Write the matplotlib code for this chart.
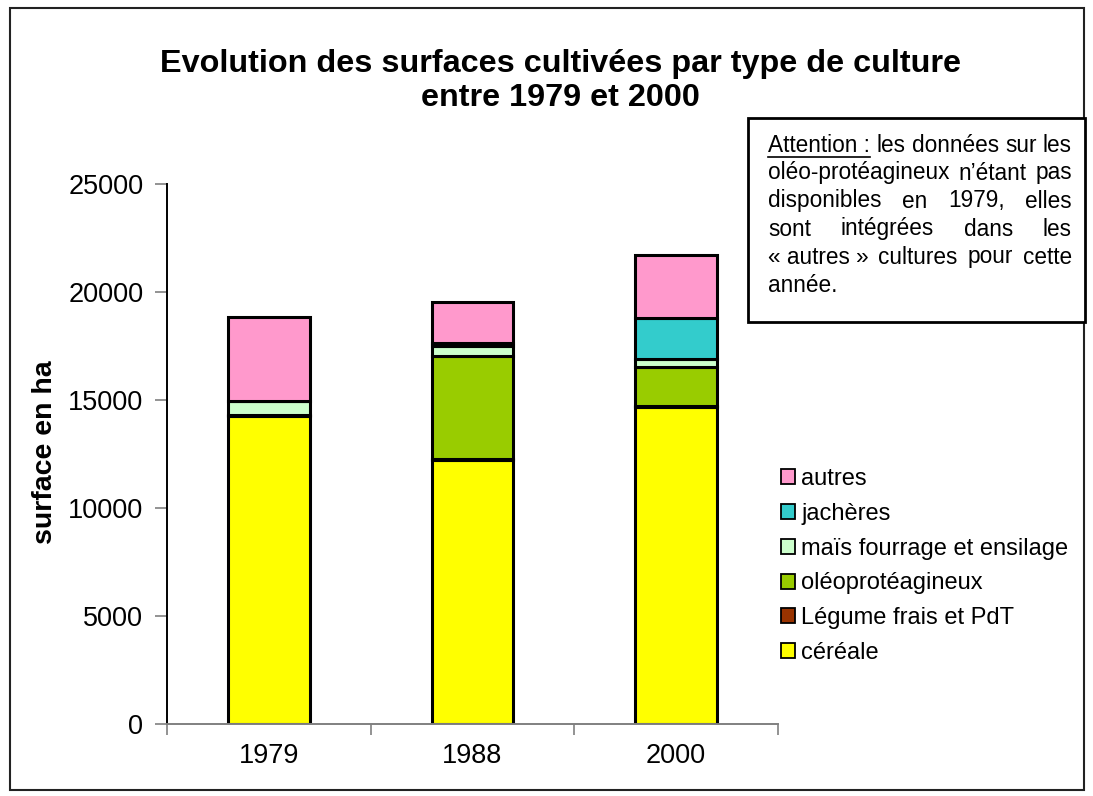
import matplotlib
matplotlib.use("Agg")
import matplotlib.pyplot as plt
from matplotlib.patches import Rectangle
from matplotlib.lines import Line2D
import numpy as np

plt.rcParams['font.family'] = ['Liberation Sans', 'DejaVu Sans']

# ---- data ----
years = ["1979", "1988", "2000"]
series_names = ["céréale", "Légume frais et PdT", "oléoprotéagineux",
                "maïs fourrage et ensilage", "jachères", "autres"]
cereale = [14250, 12230, 14660]
legume = [50, 50, 50]
oleo = [0, 4760, 1830]
mais = [650, 460, 340]
jacheres = [0, 120, 1900]
autres = [3890, 1900, 2930]
series_values = [cereale, legume, oleo, mais, jacheres, autres]
colors = ["#FFFF00", "#993300", "#99CC00", "#CCFFCC", "#33CCCC", "#FF99CC"]

title = "Evolution des surfaces cultivées par type de culture\nentre 1979 et 2000"
ylabel = "surface en ha"
yticks = [0, 5000, 10000, 15000, 20000, 25000]
note_lines = [
    ["Attention :", "les", "données", "sur", "les"],
    ["oléo-protéagineux", "n’étant", "pas"],
    ["disponibles", "en", "1979,", "elles"],
    ["sont", "intégrées", "dans", "les"],
    ["« autres »", "cultures", "pour", "cette"],
    ["année."],
]

W, H = 1093, 796
fig = plt.figure(figsize=(W / 100, H / 100), dpi=100)

def fx(x):
    return x / W

def fy(y):
    return 1 - y / H

ax = fig.add_axes([fx(167), fy(724), fx(778) - fx(167), fy(184) - fy(724)])

x = np.arange(len(years))
bottom = np.zeros(len(years))
handles = []
for name, vals, c in zip(series_names, series_values, colors):
    b = ax.bar(x, vals, 0.4, bottom=bottom, color=c, edgecolor="black",
               linewidth=2.2, label=name)
    handles.append(b)
    bottom = bottom + np.array(vals)

ax.set_xlim(-0.5, len(years) - 0.5)
ax.set_ylim(0, 25000)
ax.set_yticks(yticks)
ax.set_yticklabels([str(v) for v in yticks], fontsize=19.5)
ax.set_xticks(x)
ax.set_xticklabels(years, fontsize=19.5)
ax.set_xticks(np.arange(-0.5, len(years), 1.0), minor=True)
ax.tick_params(axis="x", which="major", length=0, pad=14)
ax.tick_params(axis="x", which="minor", length=8, width=1.2, color="#808080", direction="out")
ax.tick_params(axis="y", length=9, width=1.2, color="#808080", pad=8)
ax.spines["top"].set_visible(False)
ax.spines["right"].set_visible(False)
ax.spines["left"].set_color("black")
ax.spines["left"].set_linewidth(1.4)
ax.spines["bottom"].set_color("#808080")
ax.spines["bottom"].set_linewidth(1.4)

# title and y label
fig.text(fx(560), fy(81), title, ha="center", va="center", fontsize=23.3,
         fontweight="bold", linespacing=1.15)
fig.text(fx(45), fy(452), ylabel, ha="center", va="center", rotation=90,
         fontsize=20.5, fontweight="bold")

# legend
leg = fig.legend(handles[::-1], series_names[::-1], loc="center left",
                 bbox_to_anchor=(fx(781), fy(566)), frameon=False, fontsize=17,
                 handlelength=0.6, handleheight=0.6, handletextpad=0.25,
                 labelspacing=0.54, borderaxespad=0, borderpad=0)
for h in leg.legend_handles:
    h.set_edgecolor("black")
    h.set_linewidth(1.3)

# outer frame
fig.patches.append(Rectangle((fx(10), fy(790)), fx(1084) - fx(10), fy(8) - fy(790),
                             transform=fig.transFigure, fill=False,
                             edgecolor="#222222", linewidth=1.5))

# note box
fig.patches.append(Rectangle((fx(748), fy(322)), fx(1085) - fx(748), fy(118) - fy(322),
                             transform=fig.transFigure, fill=True, facecolor="white",
                             edgecolor="black", linewidth=2.0, zorder=5))

fig.canvas.draw()
renderer = fig.canvas.get_renderer()
left_px, right_px = 768, 1072
y0, dy = 145, 28
for i, words in enumerate(note_lines):
    ypos = y0 + i * dy
    texts = [fig.text(0, fy(ypos), w, ha="left", va="center", fontsize=16.3,
                      zorder=6) for w in words]
    widths = [t.get_window_extent(renderer).width for t in texts]
    if len(words) > 1 and i < len(note_lines) - 1:
        gap = (right_px - left_px - sum(widths)) / (len(words) - 1)
    else:
        gap = 6
    xpos = left_px
    for j, (t, wd) in enumerate(zip(texts, widths)):
        t.set_x(fx(xpos))
        if i == 0 and j == 0:
            fig.lines.append(Line2D([fx(xpos), fx(xpos + wd)], [fy(ypos + 12), fy(ypos + 12)],
                                    transform=fig.transFigure, color="black",
                                    linewidth=1.2, zorder=6))
        xpos += wd + gap

fig.savefig("out.png", dpi=100)
